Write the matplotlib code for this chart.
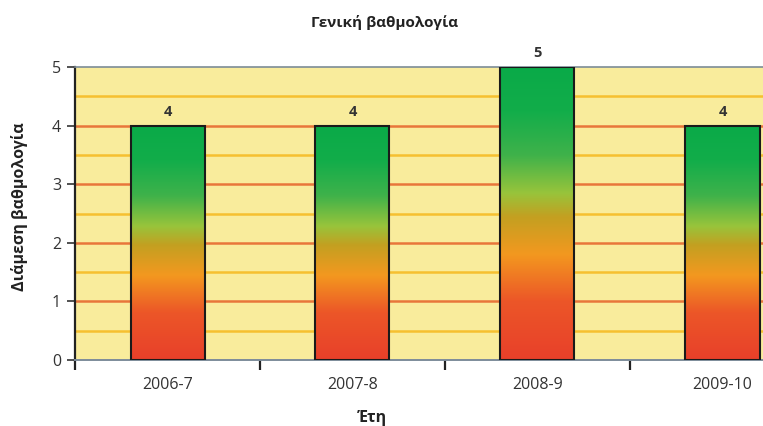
import numpy as np
import matplotlib
matplotlib.use("Agg")
import matplotlib.pyplot as plt
from matplotlib.colors import LinearSegmentedColormap
from matplotlib.patches import Rectangle

plt.rcParams['font.family'] = ['Open Sans', 'DejaVu Sans']

# Data
years = ["2006-7", "2007-8", "2008-9", "2009-10"]
scores = [4, 4, 5, 4]

title = "Γενική βαθμολογία"
ylabel = "Διάμεση βαθμολογία"
xlabel = "Έτη"

# Red -> orange -> olive -> green fill, stretched over each bar's height
grad = LinearSegmentedColormap.from_list("score", [
    (0.00, "#e8402a"),
    (0.20, "#ec5628"),
    (0.36, "#f3981f"),
    (0.49, "#c3a021"),
    (0.57, "#98c43b"),
    (0.70, "#3fb24a"),
    (0.85, "#12ad4a"),
    (1.00, "#0aaa48"),
])

fig = plt.figure(figsize=(7.63, 4.26), dpi=100)
W, H = 763, 426
left, right, top, bottom = 75, 815, 67, 360
ax = fig.add_axes([left / W, 1 - bottom / H, (right - left) / W, (bottom - top) / H])

ax.set_facecolor("#f9ec9c")

# Horizontal grid: integer lines orange-red, half lines yellow-orange
for y in np.arange(0.5, 5, 0.5):
    if float(y).is_integer():
        ax.axhline(y, color="#e8763a", lw=1.8, zorder=1)
    else:
        ax.axhline(y, color="#f6c030", lw=1.8, zorder=1)

xs = np.arange(1, len(years) + 1)
bw = 0.4
vert = np.linspace(0, 1, 256).reshape(-1, 1)
for x, v in zip(xs, scores):
    rect = Rectangle((x - bw / 2, 0), bw, v, facecolor="none",
                     edgecolor="#1a1a1a", lw=1.5, zorder=3)
    ax.add_patch(rect)
    im = ax.imshow(vert, cmap=grad, origin="lower", aspect="auto",
                   extent=(x - bw / 2, x + bw / 2, 0, v), zorder=2,
                   interpolation="bilinear")
    im.set_clip_path(rect)
    ax.text(x, v + 0.24, str(v), ha="center", va="center",
            fontsize=10.5, fontweight="bold", color="#333333", clip_on=False)

ax.set_xlim(0.5, len(years) + 0.5)
ax.set_ylim(0, 5)

ax.set_xticks(xs)
ax.set_xticklabels(years, fontsize=11.5, color="#333333")
ax.set_xticks(np.arange(0.5, len(years) + 1, 1), minor=True)
ax.tick_params(axis="x", which="major", length=0, pad=12)
ax.tick_params(axis="x", which="minor", length=7, width=1.6, color="#222222", direction="out")
ax.set_yticks(range(0, 6))
ax.set_yticklabels([str(i) for i in range(6)], fontsize=11.5, color="#333333")
ax.tick_params(axis="y", length=6, width=1.2, color="#333333", direction="out", pad=4)

ax.spines["right"].set_visible(False)
ax.spines["top"].set_color("#7d8c96")
ax.spines["top"].set_linewidth(1.2)
ax.spines["left"].set_color("#222222")
ax.spines["left"].set_linewidth(1.6)
ax.spines["bottom"].set_color("#7d8c9a")
ax.spines["bottom"].set_linewidth(1.4)

fig.text(385 / W, 1 - 22 / H, title, ha="center", va="center",
         fontsize=11, fontweight="bold", color="#222222")
fig.text(20 / W, 1 - 207 / H, ylabel, ha="center", va="center", rotation=90,
         fontsize=11.5, fontweight="bold", color="#222222")
fig.text(372 / W, 1 - 418 / H, xlabel, ha="center", va="center",
         fontsize=11.5, fontweight="bold", color="#222222")

fig.savefig("out.png", dpi=100)
